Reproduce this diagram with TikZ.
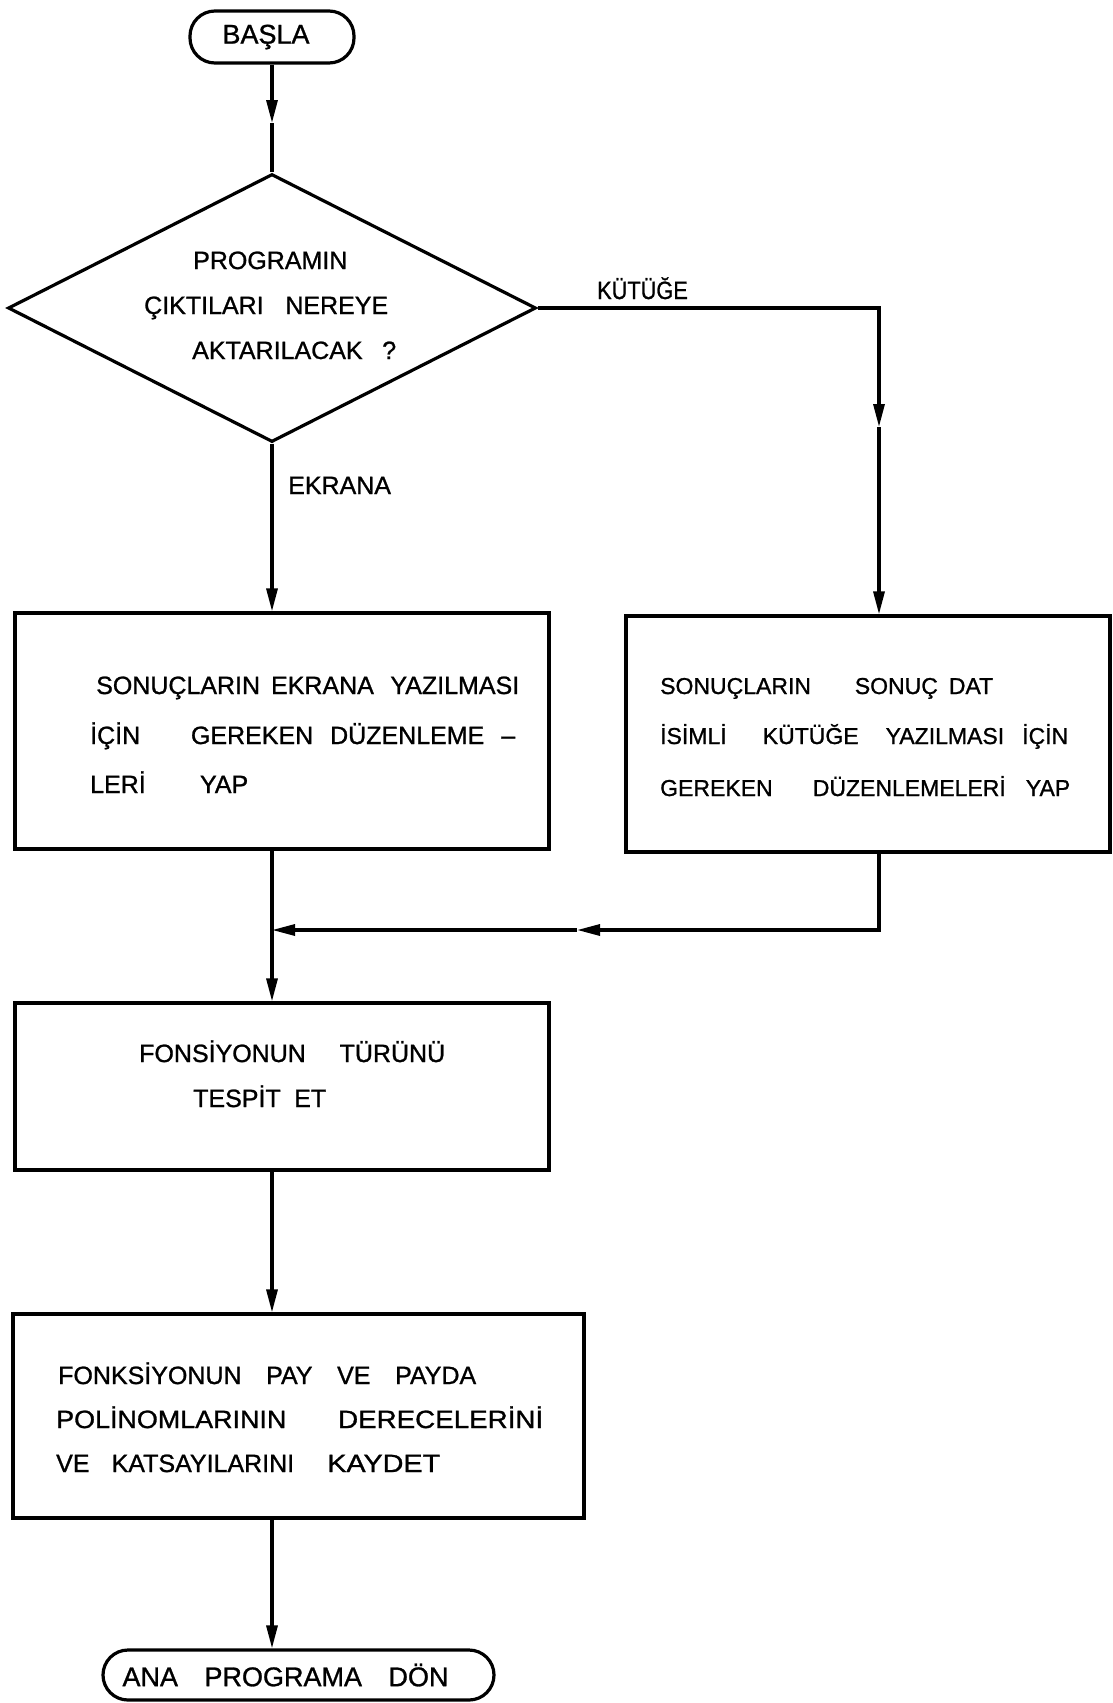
\documentclass[tikz,border=0pt]{standalone}
\usepackage{fontspec}
\usepackage{graphicx}
\setmainfont{Liberation Sans}[FakeBold=1]
\usetikzlibrary{arrows.meta,shapes.geometric}
\newcommand{\gp}[1][1]{\hskip 0pt plus #1fil\relax}
\newcommand{\spreadto}[2]{\hbox to #1{#2}}
\begin{document}
\begin{tikzpicture}[x=1pt,y=-1pt,
  ln/.style={line width=3.2pt},
  arr/.style={ln,-{Triangle[length=23pt,width=11pt]}},
  term/.style={draw,ln,rectangle,rounded corners=25pt,inner sep=0pt,font=\fontsize{27}{32}\selectfont},
  proc/.style={draw,ln,rectangle,inner sep=0pt},
  lbl/.style={anchor=base west,inner sep=0pt,font=\fontsize{25}{30}\selectfont},
  lbls/.style={lbl,font=\fontsize{23}{28}\selectfont}]
\useasboundingbox (0,0) rectangle (1113,1703);
\fill[white] (0,0) rectangle (1113,1703);

% shapes
\node[term,minimum width=164pt,minimum height=52pt] (start) at (272,37) {BAŞLA\rule{12pt}{0pt}};
\node[draw,ln,diamond,minimum width=528pt,minimum height=268pt,inner sep=0pt] (q) at (272,308) {};
\node[proc,minimum width=534pt,minimum height=236pt] (b1) at (282,731) {};
\node[proc,minimum width=484pt,minimum height=236pt] (b2) at (868,734) {};
\node[proc,minimum width=534pt,minimum height=167pt] (b3) at (282,1086.5) {};
\node[proc,minimum width=571pt,minimum height=204pt] (b4) at (298.5,1416) {};
\node[term,minimum width=391pt,minimum height=50pt] (stop) at (298.5,1675) {\spreadto{326pt}{ANA\gp PROGRAMA\gp DÖN}\rule{26pt}{0pt}};

% texts
\node[lbl] (t1) at (193,269) {PROGRAMIN};
\node[lbl] (t2) at (144,314) {\spreadto{244pt}{ÇIKTILARI\gp NEREYE}};
\node[lbl] (t3) at (192,359) {\spreadto{204pt}{AKTARILACAK\gp ?}};
\node[lbl] (lk) at (597,299) {\scalebox{0.87}[1]{KÜTÜĞE}};
\node[lbl] (le) at (288,494) {EKRANA};

\node[lbl] (s1) at (96,694) {\spreadto{423pt}{SONUÇLARIN\gp[2]EKRANA\gp[3]YAZILMASI}};
\node[lbl] (s2) at (90,744) {\spreadto{425pt}{İÇİN\gp[3]GEREKEN\gp DÜZENLEME\gp –}};
\node[lbl] (s3) at (90,793) {\spreadto{158pt}{LERİ\gp YAP}};

\node[lbls] (u1) at (660,694) {\spreadto{333pt}{SONUÇLARIN\gp[4]SONUÇ\gp DAT}};
\node[lbls] (u2) at (660,744) {\spreadto{408pt}{İSİMLİ\gp[4]KÜTÜĞE\gp[3]YAZILMASI\gp[2]İÇİN}};
\node[lbls] (u3) at (660,796) {\spreadto{410pt}{GEREKEN\gp[2]DÜZENLEMELERİ\gp YAP}};

\node[lbl] (f1) at (139,1062) {\spreadto{306pt}{FONSİYONUN\gp TÜRÜNÜ}};
\node[lbl] (f2) at (193,1107) {\spreadto{133pt}{TESPİT\gp ET}};

\node[lbl] (p1) at (58,1384) {\spreadto{418pt}{FONKSİYONUN\gp PAY\gp VE\gp PAYDA}};
\node[lbl] (p2) at (56,1428) {\spreadto{487pt}{\scalebox{1.076}[1]{POLİNOMLARININ}\gp\scalebox{1.11}[1]{DERECELERİNİ}}};
\node[lbl] (p3) at (56,1472) {\spreadto{384pt}{VE\gp KATSAYILARINI\gp[1.5]\scalebox{1.15}[1]{KAYDET}}};

% connectors
\coordinate (a1) at (272,123);
\draw[arr] (start.south) -- (a1);
\draw[ln] (a1) -- (q.north);
\draw[arr] (q.south) -- (b1.north -| q.south);
\coordinate (r1) at (879,308);
\coordinate (r2) at (879,427);
\draw[arr] (q.east) -- (r1) -- (r2);
\draw[arr] (r2) -- (b2.north -| r2);
\coordinate (j1) at (879,930);
\coordinate (j2) at (577,930);
\coordinate (m) at (272,930);
\draw[arr] (b2.south -| j1) -- (j1) -- (j2);
\draw[arr] (j2) -- (m);
\draw[ln] (b1.south -| m) -- (m);
\draw[arr] (m) -- (b3.north -| m);
\draw[arr] (b3.south -| m) -- (b4.north -| m);
\draw[arr] (b4.south -| m) -- (stop.north -| m);
\end{tikzpicture}
\end{document}
